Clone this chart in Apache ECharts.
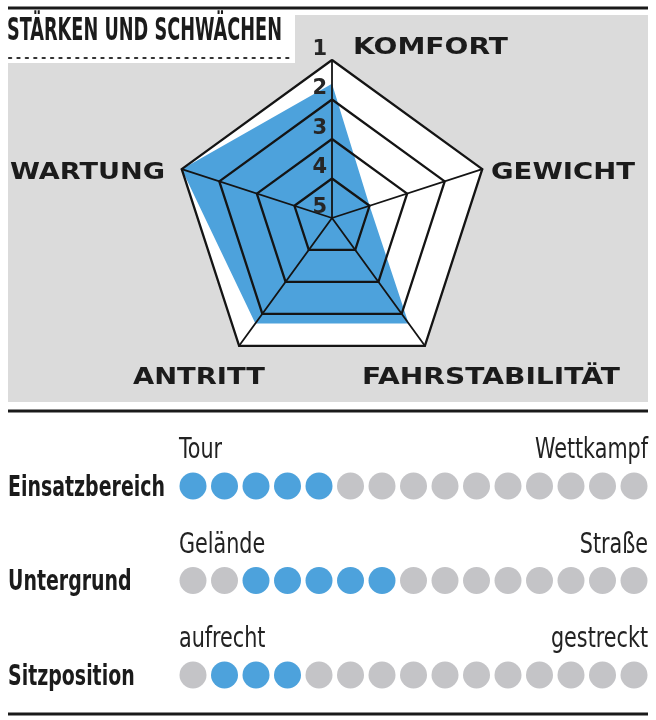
<!DOCTYPE html>
<html><head><meta charset="utf-8">
<script src="https://cdn.jsdelivr.net/npm/echarts@6/dist/echarts.min.js"></script>
<style>html,body{margin:0;padding:0;background:#fff}#c{width:656px;height:720px}</style>
</head><body><div id="c"></div>
<script>
// ---------- data ----------
const titleText = 'STÄRKEN UND SCHWÄCHEN';
const radarAxes = ['KOMFORT', 'WARTUNG', 'ANTRITT', 'FAHRSTABILITÄT', 'GEWICHT']; // counter-clockwise from top
const radarRatings = [1.6, 1, 1.7, 1.7, 4];   // 1 = best (outer ring), 5 = centre
const scaleTicks = [1, 2, 3, 4, 5];
const rows = ['Einsatzbereich', 'Untergrund', 'Sitzposition'];
const rowLeftLabels = ['Tour', 'Gelände', 'aufrecht'];
const rowRightLabels = ['Wettkampf', 'Straße', 'gestreckt'];
const dotCount = 15;
const filledFrom = [1, 3, 2];   // first filled dot (1-based)
const filledTo = [5, 7, 4];     // last filled dot (1-based)

// ---------- style ----------
const BLUE = '#4DA2DC', DOT_GREY = '#C4C4C7', BG_GREY = '#DBDBDB', INK = '#1b1b1b';
const NARROW = '"Liberation Sans Narrow", "DejaVu Sans Condensed", "Roboto", sans-serif';
const WIDE = '"DejaVu Sans", "Verdana", sans-serif';

const chart = echarts.init(document.getElementById('c'), null, {renderer: 'canvas'});

const rMin = scaleTicks[0], rMax = scaleTicks[scaleTicks.length - 1];
const indicators = radarAxes.map(n => ({name: n, min: rMin, max: rMax}));
const plotted = radarRatings.map(v => rMin + rMax - v); // rating 1 at outer ring

const dots = [];
rows.forEach((r, ri) => {
  for (let i = 0; i < dotCount; i++) {
    const on = (i + 1) >= filledFrom[ri] && (i + 1) <= filledTo[ri];
    dots.push({value: [i, ri], itemStyle: {color: on ? BLUE : DOT_GREY, opacity: 1}});
  }
});

const radarBase = {
  center: [332, 218], radius: 158, shape: 'polygon', startAngle: 90,
  splitNumber: scaleTicks.length - 1, indicator: indicators,
  axisName: {show: false}
};

chart.setOption({
  animation: false,
  grid: [
    {left: 193, right: 22, top: 486, bottom: 45},
    {left: 332, top: 60, width: 1, height: 158}
  ],
  xAxis: [
    {gridIndex: 0, type: 'value', min: 0, max: dotCount - 1, show: false},
    {gridIndex: 1, type: 'value', show: false}
  ],
  yAxis: [
    {gridIndex: 0, type: 'value', min: 0, max: rows.length - 1, inverse: true, show: false},
    {gridIndex: 1, type: 'value', min: rMin, max: rMax, interval: 1, inverse: true, z: 10,
     axisLine: {show: false}, axisTick: {show: false}, splitLine: {show: false},
     axisLabel: {color: '#262626', fontSize: 21, fontWeight: 'bold', fontFamily: WIDE,
                 margin: 5, verticalAlign: 'bottom'}}
  ],
  radar: [
    Object.assign({}, radarBase, {z: 1,
      splitArea: {show: true, areaStyle: {color: ['#ffffff']}},
      splitLine: {show: false}, axisLine: {show: false}}),
    Object.assign({}, radarBase, {z: 3,
      splitArea: {show: false},
      splitLine: {show: true, lineStyle: {color: '#141414', width: 2.3}},
      axisLine: {show: true, lineStyle: {color: '#141414', width: 1.8}}})
  ],
  series: [
    {type: 'radar', radarIndex: 0, z: 2, silent: true, symbol: 'none',
     data: [{value: plotted, lineStyle: {width: 0}, areaStyle: {color: BLUE, opacity: 1}}]},
    {type: 'scatter', xAxisIndex: 0, yAxisIndex: 0, symbolSize: 27, silent: true,
     itemStyle: {opacity: 1}, data: dots}
  ]
});

// ---------- text helpers ----------
const mctx = document.createElement('canvas').getContext('2d');
function textW(t, font) { mctx.font = font; return mctx.measureText(t).width; }
function txt(t, x, y, font, align, sx, fill) {
  return {type: 'text', x: x, y: y, scaleX: sx, z: 100, silent: true,
          style: {text: t, font: font, fill: fill || INK, textAlign: align, textVerticalAlign: 'middle'}};
}

const g = [];
// backgrounds & rules
g.push({type: 'rect', z: -5, silent: true, shape: {x: 8, y: 15, width: 640, height: 387}, style: {fill: BG_GREY}});
g.push({type: 'rect', z: -4, silent: true, shape: {x: 8, y: 15, width: 287, height: 48}, style: {fill: '#ffffff'}});
g.push({type: 'line', z: -3, silent: true, shape: {x1: 8, y1: 8, x2: 648, y2: 8}, style: {stroke: '#1a1a1a', lineWidth: 3}});
g.push({type: 'line', z: -3, silent: true, shape: {x1: 8, y1: 411, x2: 648, y2: 411}, style: {stroke: '#1a1a1a', lineWidth: 3}});
g.push({type: 'line', z: -3, silent: true, shape: {x1: 8, y1: 714, x2: 648, y2: 714}, style: {stroke: '#1a1a1a', lineWidth: 3}});
g.push({type: 'line', z: -3, silent: true, shape: {x1: 9, y1: 58, x2: 292, y2: 58},
        style: {stroke: '#333', lineWidth: 2.2, lineDash: [2.2, 6.2], lineCap: 'round'}});

// title
const titleFont = 'bold 32px ' + NARROW;
g.push(txt(titleText, 7, 32, titleFont, 'left', 275 / textW(titleText, titleFont)));

// radar axis names
const nameFont = 'bold 23px ' + WIDE;
const namePos = {
  'KOMFORT': [353, 48, 155], 'GEWICHT': [491, 173, 144], 'WARTUNG': [10, 173, 155],
  'ANTRITT': [133, 378, 132], 'FAHRSTABILITÄT': [362, 378, 258]
};
radarAxes.forEach(n => {
  const p = namePos[n];
  g.push(txt(n, p[0], p[1], nameFont, 'left', p[2] / textW(n, nameFont)));
});

// rating rows
const smallFont = '28px ' + NARROW;
const smallScale = 113 / textW(rowRightLabels[0], smallFont);
const rowFont = 'bold 29px ' + NARROW;
const rowScale = 157 / textW(rows[0], rowFont);
rows.forEach((r, ri) => {
  const pL = chart.convertToPixel({gridIndex: 0}, [0, ri]);
  const pR = chart.convertToPixel({gridIndex: 0}, [dotCount - 1, ri]);
  g.push(txt(r, 8, pL[1] + 2, rowFont, 'left', rowScale));
  g.push(txt(rowLeftLabels[ri], pL[0] - 14, pL[1] - 35, smallFont, 'left', smallScale, '#222'));
  g.push(txt(rowRightLabels[ri], pR[0] + 14, pL[1] - 35, smallFont, 'right', smallScale, '#222'));
});

chart.setOption({graphic: g});
</script></body></html>
